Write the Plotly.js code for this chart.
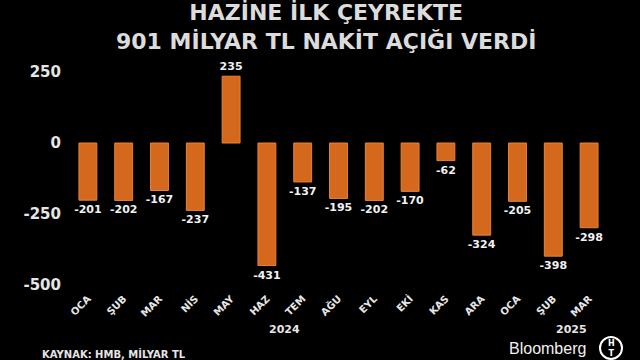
<!DOCTYPE html>
<html><head><meta charset="utf-8">
<script src="https://cdn.plot.ly/plotly-3.0.1.min.js"></script>
<style>html,body{margin:0;padding:0;background:#000;}#c{width:640px;height:360px;}</style>
</head><body><div id="c"></div>
<script>
const months = ["OCA","ŞUB","MAR","NİS","MAY","HAZ","TEM","AĞU","EYL","EKİ","KAS","ARA","OCA","ŞUB","MAR"];
const values = [-201,-202,-167,-237,235,-431,-137,-195,-202,-170,-62,-324,-205,-398,-298];
const years = ["2024","2025"];
const yearPos = [5.5, 13.5];
const yTicks = [250,0,-250,-500];

const idx = months.map((m,i)=>i);
const F = "DejaVu Sans, Verdana, sans-serif";

const trace = {
  type:"bar", x: idx, y: values,
  marker:{color:"#d4691e", line:{color:"#e8833a", width:1}},
  width:0.5,
  text: values.map(String), textposition:"outside", cliponaxis:false, constraintext:"none",
  textfont:{family:F, size:11, color:"#f2f2f2", weight:"bold"},
  hoverinfo:"skip"
};

const annotations = [
  {text:"<b>HAZİNE İLK ÇEYREKTE<br>901 MİLYAR TL NAKİT AÇIĞI VERDİ</b>", xref:"paper", yref:"paper", x:0.5, y:1, xanchor:"center", yanchor:"middle", showarrow:false,
   font:{family:F, size:22, color:"#dcdcdc"}},
  {text:"<b>KAYNAK: HMB, MİLYAR TL</b>", xref:"paper", yref:"paper", x:0, y:0, xanchor:"left", yanchor:"middle", showarrow:false,
   font:{family:F, size:10, color:"#e6e6e6"}},
  {text:"Bloomberg", xref:"paper", yref:"paper", x:0, y:0, xanchor:"right", yanchor:"middle", showarrow:false,
   font:{family:"Liberation Sans, Arial, sans-serif", size:16, color:"#f0f0f0"}},
  {text:"<b>H<br>T</b>", xref:"paper", yref:"paper", x:0, y:0, xanchor:"center", yanchor:"middle", showarrow:false,
   font:{family:F, size:8, color:"#ffffff"}}
];
years.forEach((y,i)=>annotations.push({text:"<b>"+y+"</b>", x:yearPos[i], xref:"x", yref:"paper", y:0, yanchor:"middle", showarrow:false,
  font:{family:F, size:11, color:"#e6e6e6"}}));

const layout = {
  width:640, height:360, paper_bgcolor:"#000", plot_bgcolor:"#000",
  margin:{l:70, r:33, t:60, b:70},
  showlegend:false,
  xaxis:{range:[-0.5,14.5], tickvals:idx, ticktext:months, tickangle:-45, showgrid:false, zeroline:false, showline:false,
    ticks:"", tickfont:{family:F, size:10, color:"#e6e6e6", weight:"bold"}, fixedrange:true},
  yaxis:{range:[-517,292], tickvals:yTicks, ticktext:yTicks.map(String), showgrid:false, zeroline:false, showline:false,
    ticks:"", ticklabelstandoff:8, tickfont:{family:F, size:15, color:"#e6e6e6", weight:"bold"}, fixedrange:true},
  annotations: annotations,
  shapes:[{type:"circle", xref:"paper", yref:"paper", x0:0, x1:0, y0:0, y1:0, line:{color:"#ffffff", width:2}}]
};

const pw = 640-70-33, ph = 360-60-70;
function px(x){return (x-70)/pw;}
function py(y){return (360-70-y)/ph;}
annotations[0].x = px(326); annotations[0].y = py(27);
annotations[1].x = px(40); annotations[1].y = py(353);
annotations[2].x = px(588); annotations[2].y = py(348);
annotations[3].x = px(611); annotations[3].y = py(348);
annotations[4].y = py(329); annotations[5].y = py(329);
layout.shapes[0].x0 = px(600); layout.shapes[0].x1 = px(622);
layout.shapes[0].y0 = py(359); layout.shapes[0].y1 = py(337);

Plotly.newPlot("c",[trace],layout,{displayModeBar:false, staticPlot:true});
</script></body></html>
